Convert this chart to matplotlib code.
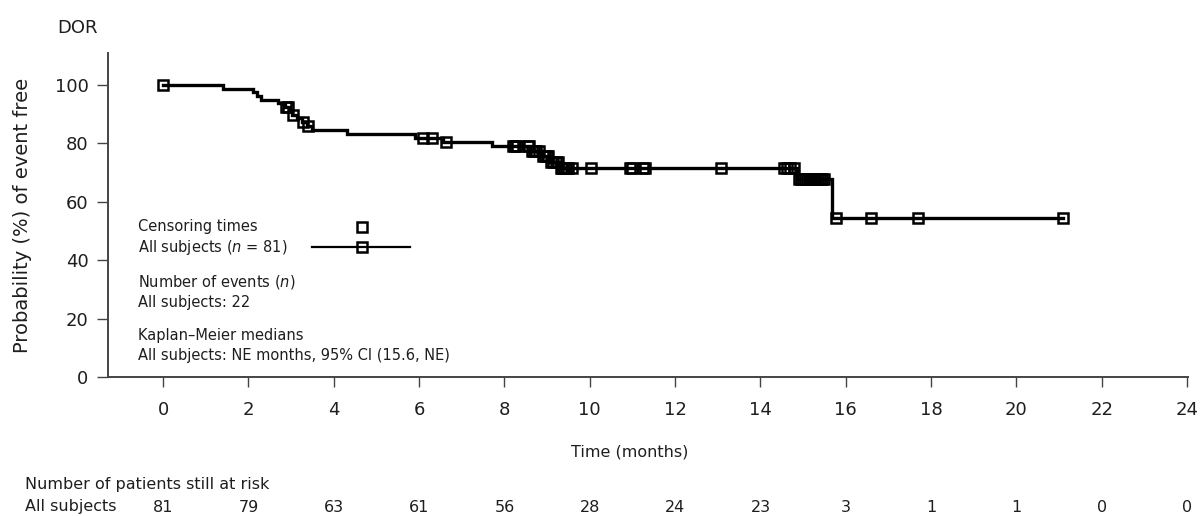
import numpy as np
import matplotlib.pyplot as plt
from matplotlib.transforms import blended_transform_factory

plt.rcParams['font.family'] = ['DejaVu Sans']
plt.rcParams['mathtext.fontset'] = 'dejavusans'

# Kaplan-Meier steps (time in months, % event free)
event_times = [0, 1.4, 2.1, 2.2, 2.3, 2.7, 2.85, 2.95, 3.02, 3.13, 3.25, 3.37,
               3.5, 4.3, 5.9, 6.55, 7.7, 8.6, 8.85, 9.05, 9.28, 14.85, 15.68]
surv_pct = [100, 98.8, 97.5, 96.3, 95.0, 93.8, 92.5, 91.2, 89.9, 88.6, 87.3,
            86.0, 84.7, 83.3, 82.0, 80.6, 79.2, 77.5, 75.7, 73.8, 71.7, 68.0,
            54.4]
last_follow_up = 21.1

censor_times = [0.0, 2.88, 2.92, 3.05, 3.28, 3.4,
                6.1, 6.3, 6.62,
                8.2, 8.25, 8.3, 8.55, 8.58,
                8.65, 8.7, 8.75, 8.8,
                8.9, 8.95, 9.0, 9.02,
                9.1, 9.15, 9.2, 9.25,
                9.32, 9.36, 9.4, 9.45, 9.5, 9.58, 10.02,
                10.95, 11.0, 11.25, 11.3, 13.07,
                14.55, 14.62, 14.7, 14.78,
                14.9, 14.95, 15.0, 15.05, 15.1, 15.15, 15.2, 15.25, 15.3,
                15.35, 15.4, 15.45, 15.5,
                15.78, 16.6, 17.7, 21.1]

risk_times = [0, 2, 4, 6, 8, 10, 12, 14, 16, 18, 20, 22, 24]
at_risk = [81, 79, 63, 61, 56, 28, 24, 23, 3, 1, 1, 0, 0]

TXT = '#1e1e1e'

fig = plt.figure(figsize=(12.02, 5.16), dpi=100)
ax = fig.add_axes([108 / 1202, 139 / 516, 1080 / 1202, 324 / 516])

# curve
xs = np.append(event_times, last_follow_up)
ys = np.append(surv_pct, surv_pct[-1])
ax.step(xs, ys, where='post', color='black', lw=2.4, solid_joinstyle='miter')

# censoring marks sit on the curve
idx = np.searchsorted(event_times, censor_times, side='right') - 1
cens_y = np.array(surv_pct)[idx]
ax.plot(censor_times, cens_y, ls='none', marker='s', ms=7.8, mfc='none',
        mec='black', mew=1.8)

ax.set_xlim(-1.29, 24.02)
ax.set_ylim(0, 111)
ax.set_xticks(risk_times)
ax.set_yticks([0, 20, 40, 60, 80, 100])
for s in ['top', 'right']:
    ax.spines[s].set_visible(False)
for s in ['left', 'bottom']:
    ax.spines[s].set_color('#444444')
    ax.spines[s].set_linewidth(1.4)
ax.tick_params(axis='x', length=7, width=1.0, pad=10, labelsize=13,
               colors='#444444', labelcolor=TXT)
ax.tick_params(axis='y', length=8, width=1.0, pad=6, labelsize=13,
               colors='#444444', labelcolor=TXT)

# legend block
lx = 0.0278
kw = dict(transform=ax.transAxes, fontsize=10.5, color=TXT, va='center',
          ha='left')
ax.text(lx, 0.463, 'Censoring times', **kw)
ax.text(lx, 0.401, 'All subjects ($n$ = 81)', **kw)
ax.text(lx, 0.293, 'Number of events ($n$)', **kw)
ax.text(lx, 0.231, 'All subjects: 22', **kw)
ax.text(lx, 0.127, 'Kaplan\u2013Meier medians', **kw)
ax.text(lx, 0.065, 'All subjects: NE months, 95% CI (15.6, NE)', **kw)
ax.plot([0.235], [0.463], transform=ax.transAxes, marker='s', ms=7.8,
        mfc='none', mec='black', mew=1.8, ls='none')
ax.plot([0.189, 0.28], [0.401, 0.401], transform=ax.transAxes,
        color='black', lw=1.6)
ax.plot([0.235], [0.401], transform=ax.transAxes, marker='s', ms=7.8,
        mfc='none', mec='black', mew=1.8, ls='none')

# titles and labels
fig.text(57 / 1202, 1 - 28 / 516, 'DOR', fontsize=13, color=TXT,
         ha='left', va='center')
fig.text(23 / 1202, 1 - 215 / 516, 'Probability (%) of event free',
         rotation=90, fontsize=14, color=TXT, ha='center', va='center')
fig.text(630 / 1202, 1 - 452 / 516, 'Time (months)', fontsize=11.5,
         color=TXT, ha='center', va='center')

# number at risk table
fig.text(25 / 1202, 1 - 485 / 516, 'Number of patients still at risk',
         fontsize=11.5, color=TXT, ha='left', va='center')
fig.text(25 / 1202, 1 - 507 / 516, 'All subjects', fontsize=11.5, color=TXT,
         ha='left', va='center')
trans = blended_transform_factory(ax.transData, fig.transFigure)
for t, n in zip(risk_times, at_risk):
    ax.text(t, 1 - 507 / 516, str(n), transform=trans, fontsize=11.5,
            color=TXT, ha='center', va='center', clip_on=False)

plt.savefig('out.png', dpi=100)
